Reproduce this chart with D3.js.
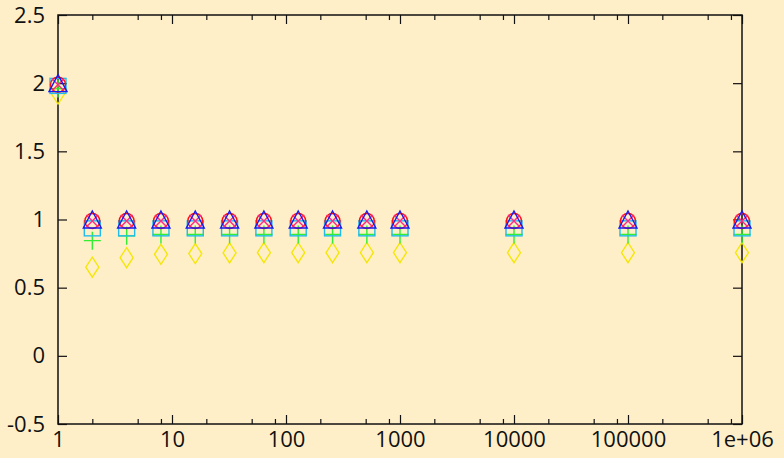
<!DOCTYPE html>
<html>
<head>
<meta charset="utf-8">
<script src="https://cdn.jsdelivr.net/npm/d3@7"></script>
<style>
  html, body { margin: 0; padding: 0; background: #feefc9; }
  svg { display: block; }
  text { font-family: "Open Sans", sans-serif; font-size: 22px; fill: #111; }
</style>
</head>
<body>
<svg id="chart" width="784" height="458"></svg>
<script>
// Problem sizes (log axis) and the measured ratios of each series
const sizes = [1, 2, 4, 8, 16, 32, 64, 128, 256, 512, 1000, 10000, 100000, 1000000];
const circleSeries   = [2.0, 1.0, 1.0, 1.0, 1.0, 1.0, 1.0, 1.0, 1.0, 1.0, 1.0, 1.0, 1.0, 1.0];
const crossSeries    = [2.0, 1.0, 1.0, 1.0, 1.0, 1.0, 1.0, 1.0, 1.0, 1.0, 1.0, 1.0, 1.0, 1.0];
const triangleSeries = [2.0, 1.0, 1.0, 1.0, 1.0, 1.0, 1.0, 1.0, 1.0, 1.0, 1.0, 1.0, 1.0, 1.0];
const squareSeries   = [1.98, 0.935, 0.935, 0.935, 0.935, 0.935, 0.935, 0.935, 0.935, 0.935, 0.935, 0.935, 0.935, 0.935];
const plusSeries     = [1.96, 0.845, 0.88, 0.89, 0.89, 0.89, 0.89, 0.89, 0.89, 0.89, 0.89, 0.89, 0.89, 0.89];
const diamondSeries  = [1.92, 0.65, 0.72, 0.745, 0.75, 0.755, 0.757, 0.757, 0.757, 0.757, 0.757, 0.757, 0.757, 0.757];

const xTickValues = [1, 10, 100, 1000, 10000, 100000, 1000000];
const xTickLabels = ["1", "10", "100", "1000", "10000", "100000", "1e+06"];
const yTickValues = [-0.5, 0, 0.5, 1, 1.5, 2, 2.5];
const yTickLabels = ["-0.5", "0", "0.5", "1", "1.5", "2", "2.5"];

const W = 784, H = 458;
const m = { left: 58, right: 42, top: 15, bottom: 34 };
const svg = d3.select("#chart");

const x = d3.scaleLog().domain([1, 1e6]).range([m.left, W - m.right]);
const y = d3.scaleLinear().domain([-0.5, 2.5]).range([H - m.bottom, m.top]);

// minor ticks at 2, 5 and 8 within each decade
const minorX = [];
for (let e = 0; e < 6; e++) [2, 5, 8].forEach(k => minorX.push(k * Math.pow(10, e)));

const majorLen = 9, minorLen = 5;

function styleAxis(g) {
  g.select(".domain").remove();
  g.selectAll("line").attr("stroke", "#111").attr("stroke-width", 1.2);
  g.selectAll("text").attr("font-family", null).attr("font-size", null).attr("fill", null);
}

// bottom axis with labels, plus minor ticks
svg.append("g").attr("transform", `translate(0,${y(-0.5)})`)
  .call(d3.axisBottom(x).tickValues(xTickValues).tickFormat((d, i) => xTickLabels[i])
    .tickSizeInner(-majorLen).tickSizeOuter(0).tickPadding(7))
  .call(styleAxis);
svg.append("g").attr("transform", `translate(0,${y(-0.5)})`)
  .call(d3.axisBottom(x).tickValues(minorX).tickFormat("").tickSizeInner(-minorLen).tickSizeOuter(0))
  .call(styleAxis);

// top mirror ticks
svg.append("g").attr("transform", `translate(0,${y(2.5)})`)
  .call(d3.axisTop(x).tickValues(xTickValues).tickFormat("").tickSizeInner(-majorLen).tickSizeOuter(0))
  .call(styleAxis);
svg.append("g").attr("transform", `translate(0,${y(2.5)})`)
  .call(d3.axisTop(x).tickValues(minorX).tickFormat("").tickSizeInner(-minorLen).tickSizeOuter(0))
  .call(styleAxis);

// left axis with labels
svg.append("g").attr("transform", `translate(${x(1)},0)`)
  .call(d3.axisLeft(y).tickValues(yTickValues).tickFormat((d, i) => yTickLabels[i])
    .tickSizeInner(-majorLen).tickSizeOuter(0).tickPadding(13))
  .call(styleAxis);

// right mirror ticks
svg.append("g").attr("transform", `translate(${x(1e6)},0)`)
  .call(d3.axisRight(y).tickValues(yTickValues).tickFormat("").tickSizeInner(-majorLen).tickSizeOuter(0))
  .call(styleAxis);

// plot border
svg.append("rect")
  .attr("x", x(1)).attr("y", y(2.5))
  .attr("width", x(1e6) - x(1)).attr("height", y(-0.5) - y(2.5))
  .attr("fill", "none").attr("stroke", "#111").attr("stroke-width", 1.5);

// point markers
const sw = 1.4;
const pts = (vals) => sizes.map((s, i) => ({ px: x(s), py: y(vals[i]) }));

svg.append("g").selectAll("path").data(pts(diamondSeries)).join("path")
  .attr("d", d => `M${d.px},${d.py - 10}L${d.px + 6.5},${d.py}L${d.px},${d.py + 10}L${d.px - 6.5},${d.py}Z`)
  .attr("fill", "none").attr("stroke", "#f5e60a").attr("stroke-width", sw);

svg.append("g").selectAll("path").data(pts(plusSeries)).join("path")
  .attr("d", d => `M${d.px - 8.5},${d.py}H${d.px + 8.5}M${d.px},${d.py - 9}V${d.py + 9}`)
  .attr("fill", "none").attr("stroke", "#33ee33").attr("stroke-width", sw);

svg.append("g").selectAll("rect").data(pts(squareSeries)).join("rect")
  .attr("x", d => d.px - 8).attr("y", d => d.py - 7.5).attr("width", 16).attr("height", 15)
  .attr("fill", "none").attr("stroke", "#22bbee").attr("stroke-width", sw);

svg.append("g").selectAll("circle").data(pts(circleSeries)).join("circle")
  .attr("cx", d => d.px).attr("cy", d => d.py + 1.5).attr("r", 7.5)
  .attr("fill", "none").attr("stroke", "#ff1010").attr("stroke-width", sw);

svg.append("g").selectAll("path").data(pts(crossSeries)).join("path")
  .attr("d", d => `M${d.px - 6},${d.py - 4.5}L${d.px + 6},${d.py + 7.5}M${d.px - 6},${d.py + 7.5}L${d.px + 6},${d.py - 4.5}`)
  .attr("fill", "none").attr("stroke", "#ff2a88").attr("stroke-width", sw);

svg.append("g").selectAll("path").data(pts(triangleSeries)).join("path")
  .attr("d", d => `M${d.px},${d.py - 8.5}L${d.px + 9},${d.py + 8.5}L${d.px - 9},${d.py + 8.5}Z`)
  .attr("fill", "none").attr("stroke", "#1a1aee").attr("stroke-width", sw);
</script>
</body>
</html>
